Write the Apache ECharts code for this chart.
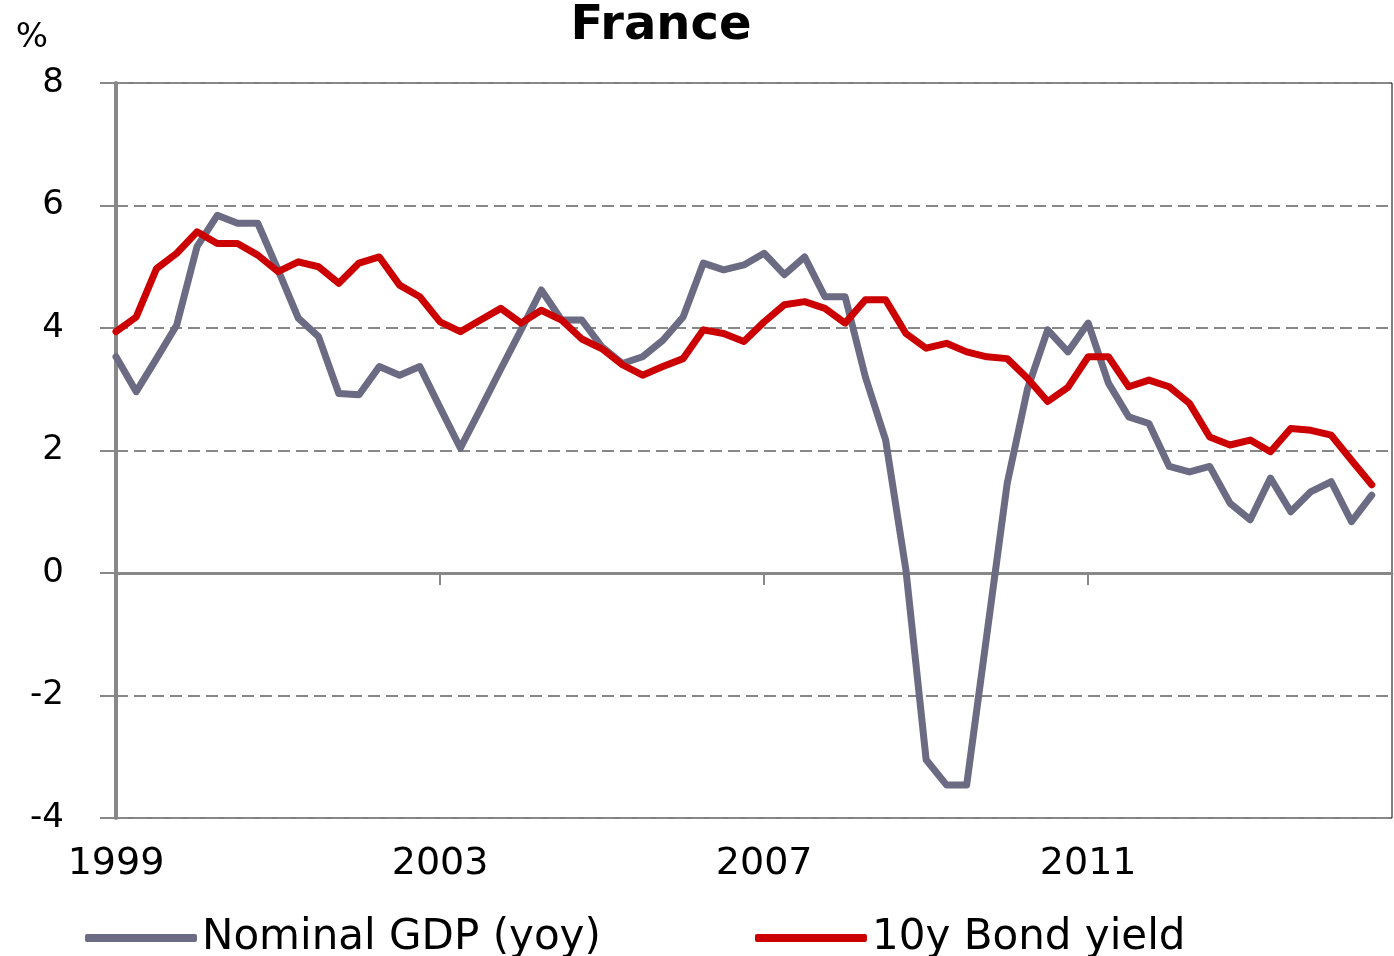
<!DOCTYPE html>
<html>
<head>
<meta charset="utf-8">
<script src="https://cdn.jsdelivr.net/npm/echarts@6/dist/echarts.min.js"></script>
<style>
  html, body { margin: 0; padding: 0; background: #fff; }
  #chart { width: 1394px; height: 956px; }
</style>
</head>
<body>
<div id="chart"></div>
<script>
// Quarterly categories 1999 Q1 .. 2014 Q4 (last one has no data)
var categories = [
  '1999 Q1','1999 Q2','1999 Q3','1999 Q4',
  '2000 Q1','2000 Q2','2000 Q3','2000 Q4',
  '2001 Q1','2001 Q2','2001 Q3','2001 Q4',
  '2002 Q1','2002 Q2','2002 Q3','2002 Q4',
  '2003 Q1','2003 Q2','2003 Q3','2003 Q4',
  '2004 Q1','2004 Q2','2004 Q3','2004 Q4',
  '2005 Q1','2005 Q2','2005 Q3','2005 Q4',
  '2006 Q1','2006 Q2','2006 Q3','2006 Q4',
  '2007 Q1','2007 Q2','2007 Q3','2007 Q4',
  '2008 Q1','2008 Q2','2008 Q3','2008 Q4',
  '2009 Q1','2009 Q2','2009 Q3','2009 Q4',
  '2010 Q1','2010 Q2','2010 Q3','2010 Q4',
  '2011 Q1','2011 Q2','2011 Q3','2011 Q4',
  '2012 Q1','2012 Q2','2012 Q3','2012 Q4',
  '2013 Q1','2013 Q2','2013 Q3','2013 Q4',
  '2014 Q1','2014 Q2','2014 Q3','2014 Q4'
];

var nominalGDP = [
  3.53, 2.96, 3.50, 4.05, 5.33, 5.84, 5.71, 5.71,
  4.95, 4.16, 3.86, 2.93, 2.91, 3.37, 3.23, 3.37,
  2.70, 2.04, 2.68, 3.33, 3.97, 4.62, 4.13, 4.13,
  3.69, 3.42, 3.53, 3.80, 4.18, 5.06, 4.95, 5.03,
  5.22, 4.87, 5.16, 4.51, 4.51, 3.20, 2.17, 0.05,
  -3.05, -3.46, -3.46, -1.00, 1.46, 3.00, 3.97, 3.61,
  4.08, 3.10, 2.55, 2.44, 1.74, 1.65, 1.74, 1.14,
  0.87, 1.55, 1.00, 1.33, 1.49, 0.84, 1.27, null
];

var bondYield10y = [
  3.94, 4.18, 4.97, 5.22, 5.57, 5.38, 5.38, 5.19,
  4.92, 5.08, 5.00, 4.73, 5.06, 5.16, 4.70, 4.51,
  4.10, 3.94, 4.13, 4.32, 4.08, 4.29, 4.13, 3.82,
  3.66, 3.40, 3.23, 3.37, 3.50, 3.97, 3.91, 3.78,
  4.10, 4.38, 4.43, 4.32, 4.08, 4.46, 4.46, 3.91,
  3.67, 3.75, 3.61, 3.53, 3.50, 3.18, 2.80, 3.03,
  3.53, 3.53, 3.04, 3.15, 3.04, 2.77, 2.22, 2.09,
  2.17, 1.98, 2.36, 2.33, 2.25, 1.84, 1.44, null
];

var seriesNames = ['Nominal GDP (yoy)', '10y Bond yield'];
var titleText = 'France';
var yUnit = '%';

var FONT = 'DejaVu Sans';
var chart = echarts.init(document.getElementById('chart'), null, { renderer: 'canvas' });

chart.setOption({
  animation: false,
  backgroundColor: '#ffffff',
  title: {
    text: titleText,
    left: 656,
    textAlign: 'center',
    top: -2,
    textStyle: { fontFamily: FONT, fontWeight: 'bold', fontSize: 48, color: '#000' }
  },
  legend: [
    {
      data: [seriesNames[0]],
      left: 80, top: 911,
      icon: 'roundRect', itemWidth: 112, itemHeight: 8, itemGap: 0, itemTextGap: 11,
      textStyle: { fontFamily: FONT, fontSize: 42, color: '#000', lineHeight: 44 }
    },
    {
      data: [seriesNames[1]],
      left: 750, top: 911,
      icon: 'roundRect', itemWidth: 112, itemHeight: 8, itemGap: 0, itemTextGap: 13,
      textStyle: { fontFamily: FONT, fontSize: 42, color: '#000', lineHeight: 44 }
    }
  ],
  grid: {
    left: 116, right: 2, top: 83, bottom: 138,
    outerBoundsMode: 'none',
    containLabel: false,
    show: true, borderColor: '#000', borderWidth: 1, backgroundColor: 'transparent'
  },
  xAxis: {
    type: 'category',
    data: categories,
    boundaryGap: false,
    axisLine: { onZero: true, lineStyle: { color: '#888888', width: 3 } },
    axisTick: { show: true, interval: 15, length: 12, lineStyle: { color: '#888888', width: 2 } },
    axisLabel: {
      interval: 15,
      margin: 27,
      fontFamily: FONT, fontSize: 38, color: '#000',
      formatter: function (v) { return v.split(' ')[0]; }
    },
    splitLine: { show: false }
  },
  yAxis: {
    type: 'value',
    min: -4, max: 8, interval: 2,
    name: yUnit,
    nameLocation: 'end',
    nameGap: 28,
    nameTextStyle: { fontFamily: FONT, fontSize: 34, color: '#000', align: 'right', padding: [0, 68, 0, 0] },
    axisLine: { show: true, onZero: false, lineStyle: { color: '#888888', width: 4 } },
    axisTick: { show: true, length: 16, lineStyle: { color: '#888888', width: 2 } },
    axisLabel: { margin: 52, fontFamily: FONT, fontSize: 34, color: '#000' },
    splitLine: { show: true, lineStyle: { color: '#888888', width: 2, type: [12, 6] } }
  },
  series: [
    {
      name: seriesNames[0],
      type: 'line',
      data: nominalGDP,
      showSymbol: false,
      symbol: 'none',
      color: '#6b6b84',
      lineStyle: { color: '#6b6b84', width: 7, cap: 'round', join: 'round' },
      z: 2
    },
    {
      name: seriesNames[1],
      type: 'line',
      data: bondYield10y,
      showSymbol: false,
      symbol: 'none',
      color: '#cc0000',
      lineStyle: { color: '#cc0000', width: 7, cap: 'round', join: 'round' },
      z: 3
    }
  ]
});
</script>
</body>
</html>
